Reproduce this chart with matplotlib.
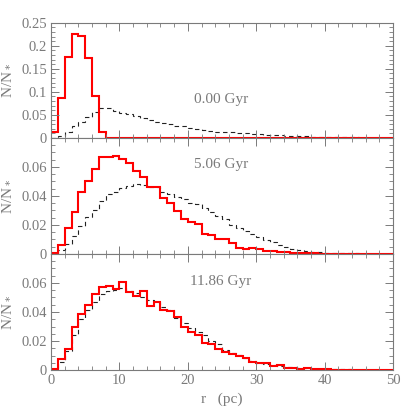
import matplotlib
matplotlib.use("Agg")
import matplotlib.pyplot as plt
from matplotlib.ticker import MultipleLocator, FixedLocator, FixedFormatter
import numpy as np

# radial bins, 1 pc wide, 0..50 pc
edges = np.arange(0, 51, 1)

# 0.00 Gyr
red_0 = [0.013, 0.086, 0.175, 0.226, 0.221, 0.174, 0.092, 0.014] + [0.0] * 42
dash_0 = [0.001, 0.005, 0.012, 0.026, 0.035, 0.046, 0.057, 0.066, 0.065, 0.059,
          0.055, 0.051, 0.048, 0.043, 0.039, 0.035, 0.032, 0.031, 0.026, 0.025,
          0.022, 0.019, 0.017, 0.016, 0.014, 0.013, 0.012, 0.011, 0.010, 0.009,
          0.008, 0.007, 0.006, 0.0055, 0.005, 0.0045, 0.004, 0.0035, 0.003, 0.0028,
          0.0025, 0.002, 0.0018, 0.0015, 0.0013, 0.001, 0.0009, 0.0008, 0.0006, 0.0005]

# 5.06 Gyr
red_5 = [0.0005, 0.0061, 0.018, 0.029, 0.0425, 0.050, 0.0584, 0.067, 0.0666, 0.0677,
         0.0653, 0.063, 0.0575, 0.053, 0.0464, 0.0464, 0.0387, 0.035, 0.0293, 0.0243,
         0.022, 0.0205, 0.014, 0.013, 0.0104, 0.0104, 0.0073, 0.0043, 0.0036, 0.0038,
         0.0032, 0.0023, 0.0023, 0.0016, 0.0016, 0.0005, 0.0006, 0.0005, 0.0004, 0.0003,
         0.0002, 0.0002, 0.0001, 0.0001, 0.0001, 0.0, 0.0, 0.0, 0.0, 0.0]
dash_5 = [0.0002, 0.003, 0.0072, 0.0125, 0.019, 0.0255, 0.030, 0.0368, 0.0414, 0.0425,
          0.0452, 0.047, 0.048, 0.0477, 0.0464, 0.046, 0.0425, 0.0414, 0.039, 0.0378,
          0.0355, 0.0346, 0.0314, 0.0289, 0.0264, 0.0238, 0.0198, 0.018, 0.0157, 0.014,
          0.0118, 0.0095, 0.008, 0.0061, 0.005, 0.0034, 0.0027, 0.002, 0.0016, 0.0013,
          0.001, 0.0008, 0.0006, 0.0005, 0.0004, 0.0003, 0.0002, 0.0002, 0.0001, 0.0001]

# 11.86 Gyr
red_11 = [0.0007, 0.0074, 0.0145, 0.0294, 0.0389, 0.0448, 0.0524, 0.0572, 0.0577, 0.0556,
          0.061, 0.054, 0.0513, 0.0545, 0.0441, 0.0471, 0.0412, 0.0407, 0.0363, 0.0299,
          0.026, 0.0241, 0.0184, 0.0176, 0.0144, 0.0124, 0.0108, 0.0099, 0.008, 0.0057,
          0.0046, 0.0046, 0.0028, 0.0032, 0.0016, 0.0014, 0.0009, 0.0014, 0.0007, 0.0005,
          0.0004, 0.0002, 0.0003, 0.0002, 0.0002, 0.0002, 0.0001, 0.0001, 0.0001, 0.0]
dash_11 = [0.0005, 0.0057, 0.013, 0.024, 0.035, 0.0414, 0.047, 0.0524, 0.0547, 0.0552,
           0.0563, 0.0545, 0.0529, 0.0506, 0.0483, 0.0467, 0.0437, 0.0414, 0.0356, 0.0322,
           0.0287, 0.0264, 0.0244, 0.0202, 0.018, 0.0138, 0.0119, 0.0103, 0.0085, 0.0064,
           0.005, 0.0039, 0.0034, 0.0028, 0.0023, 0.0019, 0.0016, 0.0013, 0.001, 0.0008,
           0.0007, 0.0006, 0.0005, 0.0004, 0.0003, 0.0003, 0.0002, 0.0002, 0.0001, 0.0001]

labels = ["0.00 Gyr", "5.06 Gyr", "11.86 Gyr"]
label_y = [0.33, 0.77, 0.76]

gray = "#7a7a7a"
plt.rcParams["font.family"] = ["Liberation Serif", "DejaVu Serif"]
plt.rcParams["font.size"] = 10.5

fig = plt.figure(figsize=(4.15, 4.15), dpi=100)
left, width = 0.123, 0.824
ax0 = fig.add_axes([left, 0.6675, width, 0.2778])
ax1 = fig.add_axes([left, 0.388, width, 0.2795])
ax2 = fig.add_axes([left, 0.1084, width, 0.2796])
axes = [ax0, ax1, ax2]
reds = [red_0, red_5, red_11]
dashes = [dash_0, dash_5, dash_11]

for i, ax in enumerate(axes):
    ax.stairs(dashes[i], edges, color="#222222", lw=0.8, linestyle=(0, (4, 3)), baseline=None)
    ax.stairs(reds[i], edges, color="red", lw=1.5, baseline=None)
    ax.set_xlim(0, 50)
    ax.xaxis.set_major_locator(MultipleLocator(10))
    ax.xaxis.set_minor_locator(MultipleLocator(2))
    ax.tick_params(which="both", direction="in", top=True, right=True,
                   colors=gray, labelcolor=gray, pad=3)
    ax.tick_params(which="major", length=6, width=0.7)
    ax.tick_params(which="minor", length=3, width=0.6)
    for s in ax.spines.values():
        s.set_color(gray)
        s.set_linewidth(0.8)
    ax.set_ylabel("N/N$_*$", color=gray, fontsize=11)
    ax.text(0.497, label_y[i], labels[i], transform=ax.transAxes,
            ha="center", va="center", color=gray, fontsize=11)
    if i < 2:
        ax.tick_params(labelbottom=False)

ax0.set_ylim(0, 0.25)
ax0.yaxis.set_major_locator(FixedLocator([0, 0.05, 0.1, 0.15, 0.2, 0.25]))
ax0.yaxis.set_major_formatter(FixedFormatter(["0", "0.05", "0.1", "0.15", "0.2", "0.25"]))
ax0.yaxis.set_minor_locator(MultipleLocator(0.01))

for ax in [ax1, ax2]:
    ax.set_ylim(0, 0.08)
    ax.yaxis.set_major_locator(FixedLocator([0, 0.02, 0.04, 0.06]))
    ax.yaxis.set_major_formatter(FixedFormatter(["0", "0.02", "0.04", "0.06"]))
    ax.yaxis.set_minor_locator(MultipleLocator(0.005))

ax2.set_xlabel("r   (pc)", color=gray, fontsize=11)

for ax in axes:
    ax.yaxis.set_label_coords(-0.11, 0.5)

fig.savefig("out.png", dpi=100)
